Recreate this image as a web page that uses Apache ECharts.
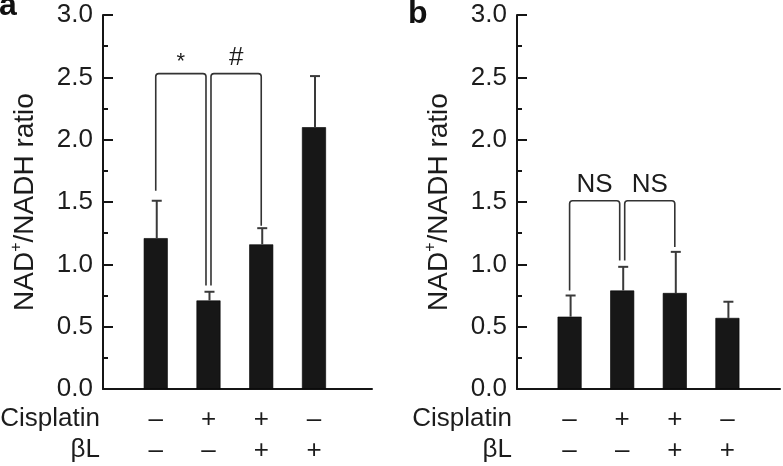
<!DOCTYPE html>
<html>
<head>
<meta charset="utf-8">
<script src="https://cdn.jsdelivr.net/npm/echarts@6/dist/echarts.min.js"></script>
<style>
  html, body { margin: 0; padding: 0; background: #fff; }
  #chart { width: 783px; height: 466px; }
</style>
</head>
<body>
<div id="chart"></div>
<script>
// ---- data ----
const groups = ['Control', 'Cisplatin', 'Cisplatin + βL', 'βL'];
const cisplatinSigns = ['–', '+', '+', '–'];
const blSigns = ['–', '–', '+', '+'];
const rowHeaders = ['Cisplatin', 'βL'];
const panelLetters = ['a', 'b'];
const yAxisName = ['NAD', '+', '/NADH ratio'];

const meanA = [1.21, 0.71, 1.16, 2.10];
const errA  = [0.30, 0.07, 0.13, 0.41];
const meanB = [0.58, 0.79, 0.77, 0.57];
const errB  = [0.17, 0.19, 0.33, 0.13];

const yMin = 0, yMax = 3.0, yInterval = 0.5;

// brackets: [fromGroup, toGroup, topY, fromEndY, toEndY, label]
const bracketsA = [
  [1, 2, 2.53, 1.59, 0.83, '*'],
  [2, 3, 2.53, 0.83, 1.31, '#']
];
const bracketsB = [
  [1, 2, 1.51, 0.79, 1.03, 'NS'],
  [2, 3, 1.51, 1.03, 1.14, 'NS']
];

// ---- styles ----
const FONT = 'Liberation Sans, Arial, Helvetica, sans-serif';
const TEXT = '#1c1c1c';
const AXIS = '#151515';
const BAR = '#171717';
const ERR = '#3a3a3a';

const chart = echarts.init(document.getElementById('chart'), null, { renderer: 'canvas' });

function xAxisCfg(gridIndex, max) {
  return {
    type: 'value', gridIndex: gridIndex, min: 0, max: max, interval: 1,
    splitLine: { show: false },
    axisTick: { show: false },
    axisLine: { show: true, onZero: false, lineStyle: { color: AXIS, width: 2 } },
    axisLabel: {
      show: true, margin: 15, color: TEXT, fontFamily: FONT, fontSize: 26, lineHeight: 31,
      showMinLabel: true, showMaxLabel: true,
      formatter: function (v) {
        const i = Math.round(v) - 1;
        if (Math.abs(v - Math.round(v)) > 1e-6 || i < 0 || i >= groups.length) return '';
        return cisplatinSigns[i] + '\n' + blSigns[i];
      }
    }
  };
}

function yAxisCfg(gridIndex) {
  return {
    type: 'value', gridIndex: gridIndex, min: yMin, max: yMax, interval: yInterval,
    name: '{n|' + yAxisName[0] + '}{s|' + yAxisName[1] + '}{n|' + yAxisName[2] + '}',
    nameLocation: 'middle', nameRotate: 90, nameGap: 62,
    nameTextStyle: {
      color: TEXT, fontFamily: FONT, fontSize: 28,
      rich: {
        n: { fontFamily: FONT, fontSize: 28, color: TEXT, lineHeight: 32 },
        s: { fontFamily: FONT, fontSize: 16, color: TEXT, verticalAlign: 'top', lineHeight: 32 }
      }
    },
    splitLine: { show: false },
    axisLine: { show: true, lineStyle: { color: AXIS, width: 2 } },
    axisTick: { show: true, inside: true, length: 10, lineStyle: { color: AXIS, width: 2 } },
    minorTick: { show: true, splitNumber: 2, length: 5, lineStyle: { color: AXIS, width: 2 } },
    axisLabel: {
      color: TEXT, fontFamily: FONT, fontSize: 26, margin: 10,
      formatter: function (v) { return v.toFixed(1); }
    }
  };
}

function barSeries(idx, means) {
  return {
    type: 'bar', xAxisIndex: idx, yAxisIndex: idx, barWidth: 24,
    data: means.map(function (v, i) { return [i + 1, v]; }),
    itemStyle: { color: BAR, borderColor: '#000', borderWidth: 0.6 },
    z: 2
  };
}

function errorSeries(idx, means, errs) {
  return {
    type: 'custom', xAxisIndex: idx, yAxisIndex: idx, z: 3,
    data: means.map(function (v, i) { return [i + 1, v, v + errs[i]]; }),
    renderItem: function (params, api) {
      const base = api.coord([api.value(0), api.value(1)]);
      const top = api.coord([api.value(0), api.value(2)]);
      const st = { stroke: ERR, lineWidth: 2 };
      return {
        type: 'group',
        children: [
          { type: 'line', shape: { x1: base[0] + 1, y1: base[1], x2: top[0] + 1, y2: top[1] }, style: st },
          { type: 'line', shape: { x1: top[0] - 4, y1: top[1], x2: top[0] + 6, y2: top[1] }, style: st }
        ]
      };
    }
  };
}

function bracketSeries(idx, brackets) {
  const fromSet = brackets.map(function (b) { return b[0]; });
  const toSet = brackets.map(function (b) { return b[1]; });
  return {
    type: 'custom', xAxisIndex: idx, yAxisIndex: idx, z: 4,
    data: brackets.map(function (b) { return [b[0], b[1], b[2], b[3], b[4]]; }),
    renderItem: function (params, api) {
      const b = brackets[params.dataIndex];
      const gap = 2.5;
      let xl = api.coord([b[0], 0])[0];
      let xr = api.coord([b[1], 0])[0];
      if (toSet.indexOf(b[0]) >= 0) xl += gap;
      if (fromSet.indexOf(b[1]) >= 0) xr -= gap;
      const yt = api.coord([b[0], b[2]])[1];
      const yl = api.coord([b[0], b[3]])[1];
      const yr = api.coord([b[1], b[4]])[1];
      const r = 3;
      const d = 'M' + xl + ' ' + yl + ' L' + xl + ' ' + (yt + r) +
        ' Q' + xl + ' ' + yt + ' ' + (xl + r) + ' ' + yt +
        ' L' + (xr - r) + ' ' + yt +
        ' Q' + xr + ' ' + yt + ' ' + xr + ' ' + (yt + r) +
        ' L' + xr + ' ' + yr;
      const isStar = b[5] === '*';
      return {
        type: 'group',
        children: [
          { type: 'path', shape: { pathData: d }, style: { stroke: '#333', lineWidth: 1.6, fill: null } },
          { type: 'text', style: {
              text: b[5], x: (xl + xr) / 2, y: yt - (isStar ? 12 : 16),
              align: 'center', verticalAlign: 'middle',
              font: (isStar ? '22px ' : '26px ') + FONT, fill: TEXT
          } }
        ]
      };
    }
  };
}

const option = {
  backgroundColor: '#fff',
  animation: false,
  grid: [
    { left: 103, top: 15, width: 269, bottom: 77 },
    { left: 517, top: 15, right: 0, bottom: 77 }
  ],
  xAxis: [xAxisCfg(0, 5.1), xAxisCfg(1, 5)],
  yAxis: [yAxisCfg(0), yAxisCfg(1)],
  series: [
    barSeries(0, meanA), errorSeries(0, meanA, errA), bracketSeries(0, bracketsA),
    barSeries(1, meanB), errorSeries(1, meanB, errB), bracketSeries(1, bracketsB)
  ],
  graphic: [
    { type: 'text', left: -1, top: -10, style: { text: panelLetters[0], font: 'bold 32px ' + FONT, fill: '#111' } },
    { type: 'text', left: 408, top: -2, style: { text: panelLetters[1], font: 'bold 32px ' + FONT, fill: '#111' } },
    { type: 'text', style: { text: rowHeaders[0], x: 100, y: 419, align: 'right', verticalAlign: 'middle', font: '26px ' + FONT, fill: TEXT } },
    { type: 'text', style: { text: rowHeaders[1], x: 100, y: 450, align: 'right', verticalAlign: 'middle', font: '26px ' + FONT, fill: TEXT } },
    { type: 'text', style: { text: rowHeaders[0], x: 512, y: 419, align: 'right', verticalAlign: 'middle', font: '26px ' + FONT, fill: TEXT } },
    { type: 'text', style: { text: rowHeaders[1], x: 512, y: 450, align: 'right', verticalAlign: 'middle', font: '26px ' + FONT, fill: TEXT } }
  ]
};

chart.setOption(option);
</script>
</body>
</html>
